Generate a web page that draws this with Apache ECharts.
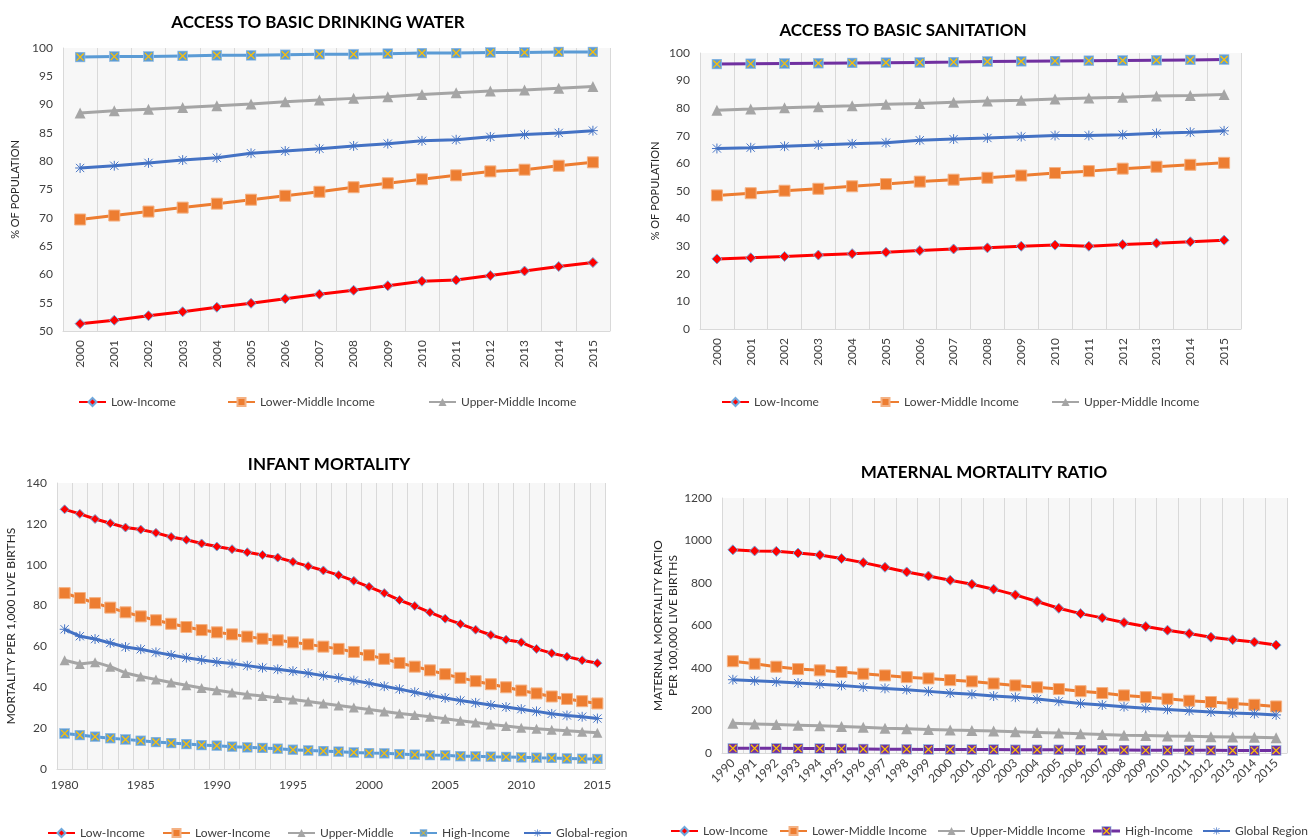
<!DOCTYPE html>
<html>
<head>
<meta charset="utf-8">
<script src="https://cdn.jsdelivr.net/npm/echarts@6/dist/echarts.min.js"></script>
<style>
  html, body { margin: 0; padding: 0; background: #fff; }
  #chart { width: 1316px; height: 839px; }
</style>
</head>
<body>
<div id="chart"></div>
<script>
// ---- Access to basic drinking water (% of population) ----
const waterYears = ['2000','2001','2002','2003','2004','2005','2006','2007','2008','2009','2010','2011','2012','2013','2014','2015'];
const waterLow      = [51.3, 51.9, 52.7, 53.4, 54.2, 54.9, 55.7, 56.5, 57.2, 58.0, 58.8, 59.0, 59.8, 60.6, 61.4, 62.1];
const waterLowerMid = [69.7, 70.4, 71.1, 71.8, 72.5, 73.2, 73.9, 74.6, 75.4, 76.1, 76.8, 77.5, 78.2, 78.5, 79.2, 79.8];
const waterUpperMid = [88.5, 88.9, 89.2, 89.5, 89.8, 90.1, 90.5, 90.8, 91.1, 91.4, 91.8, 92.1, 92.4, 92.6, 92.9, 93.2];
const waterHigh     = [98.4, 98.5, 98.5, 98.6, 98.7, 98.7, 98.8, 98.9, 98.9, 99.0, 99.1, 99.1, 99.2, 99.2, 99.3, 99.3];
const waterGlobal   = [78.8, 79.2, 79.7, 80.2, 80.6, 81.4, 81.8, 82.2, 82.7, 83.1, 83.6, 83.8, 84.3, 84.7, 85.0, 85.4];

// ---- Access to basic sanitation (% of population) ----
const sanitationYears = waterYears.slice();
const sanLow      = [25.4, 25.8, 26.3, 26.8, 27.3, 27.8, 28.4, 29.0, 29.4, 30.0, 30.4, 30.0, 30.6, 31.1, 31.6, 32.2];
const sanLowerMid = [48.4, 49.2, 50.1, 50.8, 51.7, 52.5, 53.4, 54.1, 54.8, 55.6, 56.5, 57.2, 58.1, 58.8, 59.5, 60.2];
const sanUpperMid = [79.3, 79.7, 80.2, 80.5, 80.9, 81.4, 81.7, 82.2, 82.6, 82.9, 83.3, 83.7, 84.0, 84.4, 84.6, 85.0];
const sanHigh     = [96.0, 96.1, 96.2, 96.3, 96.4, 96.5, 96.6, 96.7, 96.9, 97.0, 97.1, 97.2, 97.3, 97.4, 97.5, 97.6];
const sanGlobal   = [65.4, 65.7, 66.2, 66.7, 67.1, 67.5, 68.4, 68.8, 69.2, 69.7, 70.1, 70.1, 70.4, 70.9, 71.3, 71.8];

// ---- Infant mortality (per 1,000 live births), 1980-2015 ----
const infantYears = [];
for (let y = 1980; y <= 2015; y++) infantYears.push(String(y));
const infLow = [127.1, 124.9, 122.4, 120.3, 118.2, 117.2, 115.6, 113.6, 112.2, 110.4, 108.9, 107.6, 106.1, 104.8, 103.5, 101.4, 99.3, 97.2,
                94.9, 92.1, 89.2, 86.1, 82.7, 79.8, 76.7, 73.6, 71.0, 68.2, 65.6, 63.3, 62.0, 58.8, 56.7, 55.0, 53.2, 51.8];
const infLower = [86.1, 83.7, 81.2, 79.0, 76.7, 74.7, 72.8, 71.1, 69.5, 68.0, 66.9, 65.9, 64.8, 63.8, 63.0, 62.0, 61.0, 59.9,
                  58.8, 57.3, 55.7, 53.9, 51.9, 50.1, 48.3, 46.4, 44.6, 43.0, 41.5, 40.0, 38.4, 37.0, 35.5, 34.3, 33.2, 32.1];
const infUpper = [53.2, 51.4, 52.3, 50.1, 47.0, 45.3, 43.8, 42.3, 41.0, 39.7, 38.6, 37.4, 36.5, 35.7, 34.8, 34.0, 33.0, 32.1,
                  31.1, 30.1, 29.1, 28.2, 27.2, 26.4, 25.6, 24.6, 23.6, 22.8, 21.8, 21.0, 20.2, 19.7, 19.2, 18.7, 18.2, 17.7];
const infHigh = [17.4, 16.6, 15.8, 15.1, 14.5, 13.8, 13.2, 12.7, 12.2, 11.7, 11.4, 10.9, 10.6, 10.3, 9.9, 9.4, 9.1, 8.8,
                 8.5, 8.1, 7.8, 7.7, 7.3, 7.0, 6.8, 6.7, 6.3, 6.2, 6.0, 5.9, 5.7, 5.5, 5.4, 5.2, 5.0, 4.9];
const infGlobal = [68.4, 65.0, 63.6, 61.7, 59.7, 58.6, 57.1, 55.8, 54.5, 53.4, 52.4, 51.6, 50.6, 49.6, 48.8, 47.9, 46.9, 45.7,
                   44.6, 43.3, 42.0, 40.5, 39.1, 37.6, 36.1, 34.8, 33.5, 32.4, 31.3, 30.3, 29.3, 28.2, 27.0, 26.2, 25.6, 24.7];

// ---- Maternal mortality ratio (per 100,000 live births), 1990-2015 ----
const maternalYears = [];
for (let y = 1990; y <= 2015; y++) maternalYears.push(String(y));
const matLow = [956, 951, 949, 941, 932, 915, 896, 874, 852, 833, 813, 794, 771, 744, 713, 681, 656, 636, 614, 595, 578, 562, 545, 533, 522, 508];
const matLowerMid = [432, 420, 406, 395, 389, 381, 373, 365, 357, 351, 343, 337, 327, 318, 309, 301, 291, 282, 271, 263, 255, 246, 240, 233, 227, 219];
const matUpperMid = [140, 137, 134, 131, 128, 125, 121, 117, 114, 111, 108, 106, 103, 100, 97, 94, 91, 87, 84, 82, 80, 79, 77, 75, 74, 72];
const matHigh = [22, 22, 22, 21, 21, 20, 19, 18, 18, 17, 17, 16, 16, 15, 15, 15, 14, 14, 14, 13, 13, 13, 13, 12, 12, 12];
const matGlobal = [345, 340, 335, 329, 324, 318, 310, 304, 298, 290, 282, 276, 268, 262, 254, 243, 233, 226, 218, 211, 205, 199, 193, 188, 185, 179];

// ---- marker artwork ----
function svgSymbol(svg) {
  return 'image://data:image/svg+xml;charset=utf-8,' + encodeURIComponent(svg);
}
function crossSquare(fill) {
  return svgSymbol(
    "<svg xmlns='http://www.w3.org/2000/svg' width='20' height='20' viewBox='0 0 20 20'>" +
    "<rect x='1' y='1' width='18' height='18' fill='" + fill + "' stroke='#9dc3e6' stroke-width='1.5'/>" +
    "<path d='M3.5 3.5L16.5 16.5M16.5 3.5L3.5 16.5' stroke='#ffc000' stroke-width='2.2'/></svg>");
}
// legend swatch: line with a crossed square in the middle
function crossSquareSwatch(lineColor, fill) {
  return svgSymbol(
    "<svg xmlns='http://www.w3.org/2000/svg' width='54' height='20' viewBox='0 0 54 20'>" +
    "<path d='M0 10H54' stroke='" + lineColor + "' stroke-width='6'/>" +
    "<rect x='18' y='1' width='18' height='18' fill='" + fill + "' stroke='#9dc3e6' stroke-width='1.5'/>" +
    "<path d='M20.5 3.5L33.5 16.5M33.5 3.5L20.5 16.5' stroke='#ffc000' stroke-width='2.2'/></svg>");
}
const asterisk = svgSymbol(
  "<svg xmlns='http://www.w3.org/2000/svg' width='20' height='20' viewBox='0 0 20 20'>" +
  "<path d='M10 1V19M2.5 2.5L17.5 17.5M17.5 2.5L2.5 17.5M1 10H19' stroke='#4472c4' stroke-width='1.8'/></svg>");

const FONT = 'Lato';
const TEXT = '#404040';

const styles = {
  low:      { color: '#ff0000', symbol: 'diamond',  size: 10, item: { color: '#ff0000', borderColor: '#6fa8dc', borderWidth: 1 } },
  lowerMid: { color: '#ed7d31', symbol: 'rect',     size: 11, item: { color: '#ed7d31', borderColor: '#f4b183', borderWidth: 1 } },
  upperMid: { color: '#a5a5a5', symbol: 'triangle', size: 11, item: { color: '#a5a5a5' } },
  highBlue: { color: '#5b9bd5', symbol: crossSquare('#5b9bd5'), size: 11, item: { color: '#5b9bd5' } },
  highPurp: { color: '#7030a0', symbol: crossSquare('#5b9bd5'), size: 11, item: { color: '#7030a0' } },
  highPurpDark: { color: '#7030a0', symbol: crossSquare('#7030a0'), size: 11, item: { color: '#7030a0' } },
  global:   { color: '#4472c4', symbol: asterisk,   size: 11, item: { color: '#4472c4' } }
};

function line(name, data, key, idx, sizeAdj) {
  const s = styles[key];
  return {
    type: 'line', name: name, data: data,
    xAxisIndex: idx, yAxisIndex: idx,
    symbol: s.symbol, symbolSize: s.size + (sizeAdj || 0),
    showAllSymbol: true,
    lineStyle: { color: s.color, width: 3 },
    itemStyle: s.item,
    emphasis: { disabled: true },
    animation: false, z: 3
  };
}

function grid(left, top, width, height) {
  return { left, top, width, height, show: true, backgroundColor: '#f7f7f7', borderWidth: 0, containLabel: false };
}

function xCat(idx, years, labelOpt, splitInterval) {
  return {
    type: 'category', gridIndex: idx, data: years, boundaryGap: true,
    axisLine: { show: true, lineStyle: { color: '#d9d9d9', width: 1 } },
    axisTick: { show: false },
    splitLine: { show: true, interval: splitInterval == null ? 0 : splitInterval, lineStyle: { color: '#d9d9d9', width: 1 } },
    axisLabel: Object.assign({ color: TEXT, fontFamily: FONT, fontSize: 12 }, labelOpt)
  };
}

function yVal(idx, min, max, interval, name, nameGap, nameSize) {
  return {
    type: 'value', gridIndex: idx, min, max, interval,
    name, nameLocation: 'middle', nameGap,
    nameTextStyle: { color: '#262626', fontFamily: FONT, fontSize: nameSize || 11, lineHeight: 15 },
    axisLine: { show: true, lineStyle: { color: '#d9d9d9' } },
    axisTick: { show: false },
    splitLine: { show: false },
    axisLabel: { color: TEXT, fontFamily: FONT, fontSize: 12, margin: 10, formatter: v => String(v) }
  };
}

function title(text, cx, cy) {
  return {
    text, left: cx, top: cy - 10, textAlign: 'center',
    textStyle: { fontFamily: FONT, fontWeight: 'bold', fontSize: 17, color: '#000' }
  };
}

function legendItem(entry, x, y) {
  return {
    data: [entry], left: x, top: y - 9, orient: 'horizontal',
    itemWidth: 27, itemHeight: 10, selectedMode: false,
    textStyle: { color: TEXT, fontFamily: FONT, fontSize: 12 }
  };
}

const option = {
  backgroundColor: '#ffffff',
  animation: false,
  title: [
    title('ACCESS TO BASIC DRINKING WATER', 313, 19),
    title('ACCESS TO BASIC SANITATION', 898, 27),
    title('INFANT MORTALITY', 324, 461),
    title('MATERNAL MORTALITY RATIO', 979, 469)
  ],
  grid: [
    grid(63, 48, 547, 283),
    grid(700, 53, 541, 276),
    grid(57, 483, 548, 286),
    grid(722, 498, 565, 255)
  ],
  xAxis: [
    xCat(0, waterYears, { rotate: 90, margin: 9, interval: 0 }),
    xCat(1, sanitationYears, { rotate: 90, margin: 9, interval: 0 }),
    xCat(2, infantYears, { interval: 4, margin: 10 }),
    xCat(3, maternalYears, { rotate: 45, margin: 8, interval: 0 })
  ],
  yAxis: [
    yVal(0, 50, 100, 5, '% OF POPULATION', 40),
    yVal(1, 0, 100, 10, '% OF POPULATION', 37),
    yVal(2, 0, 140, 20, 'MORTALITY PER 1,000 LIVE BIRTHS', 38, 12),
    yVal(3, 0, 1200, 200, 'MATERNAL MORTALITY RATIO\nPER 100,000 LIVE BIRTHS', 36, 12)
  ],
  legend: [
    legendItem('Low-Income', 73, 400),
    legendItem('Lower-Middle Income', 222, 400),
    legendItem('Upper-Middle Income', 423, 400),
    legendItem('Low-Income', 716, 400),
    legendItem('Lower-Middle Income', 866, 400),
    legendItem('Upper-Middle Income', 1046, 400),
    legendItem('Low-Income', 42, 831),
    legendItem('Lower-Income', 157, 831),
    legendItem('Upper-Middle', 282, 831),
    legendItem('High-Income', 404, 831),
    legendItem('Global-region', 518, 831),
    legendItem('Low-Income', 665, 829),
    legendItem('Lower-Middle Income', 774, 829),
    legendItem('Upper-Middle Income', 932, 829),
    legendItem({ name: 'High-Income', icon: crossSquareSwatch('#7030a0', '#7030a0') }, 1088, 829),
    legendItem('Global Region', 1197, 829)
  ],
  series: [
    // drinking water
    line('High-Income', waterHigh, 'highBlue', 0),
    line('Upper-Middle Income', waterUpperMid, 'upperMid', 0),
    line('Global Region', waterGlobal, 'global', 0),
    line('Lower-Middle Income', waterLowerMid, 'lowerMid', 0),
    line('Low-Income', waterLow, 'low', 0),
    // sanitation
    line('High-Income', sanHigh, 'highPurp', 1),
    line('Upper-Middle Income', sanUpperMid, 'upperMid', 1),
    line('Global Region', sanGlobal, 'global', 1),
    line('Lower-Middle Income', sanLowerMid, 'lowerMid', 1),
    line('Low-Income', sanLow, 'low', 1),
    // infant mortality
    line('Low-Income', infLow, 'low', 2, -1),
    line('Lower-Income', infLower, 'lowerMid', 2, 0),
    line('Upper-Middle', infUpper, 'upperMid', 2, -1),
    line('High-Income', infHigh, 'highBlue', 2, 0),
    line('Global-region', infGlobal, 'global', 2, 0),
    // maternal mortality
    line('Low-Income', matLow, 'low', 3),
    line('Lower-Middle Income', matLowerMid, 'lowerMid', 3),
    line('Upper-Middle Income', matUpperMid, 'upperMid', 3),
    line('High-Income', matHigh, 'highPurpDark', 3),
    line('Global Region', matGlobal, 'global', 3)
  ]
};

const chart = echarts.init(document.getElementById('chart'), null, { renderer: 'canvas' });
chart.setOption(option);
</script>
</body>
</html>
